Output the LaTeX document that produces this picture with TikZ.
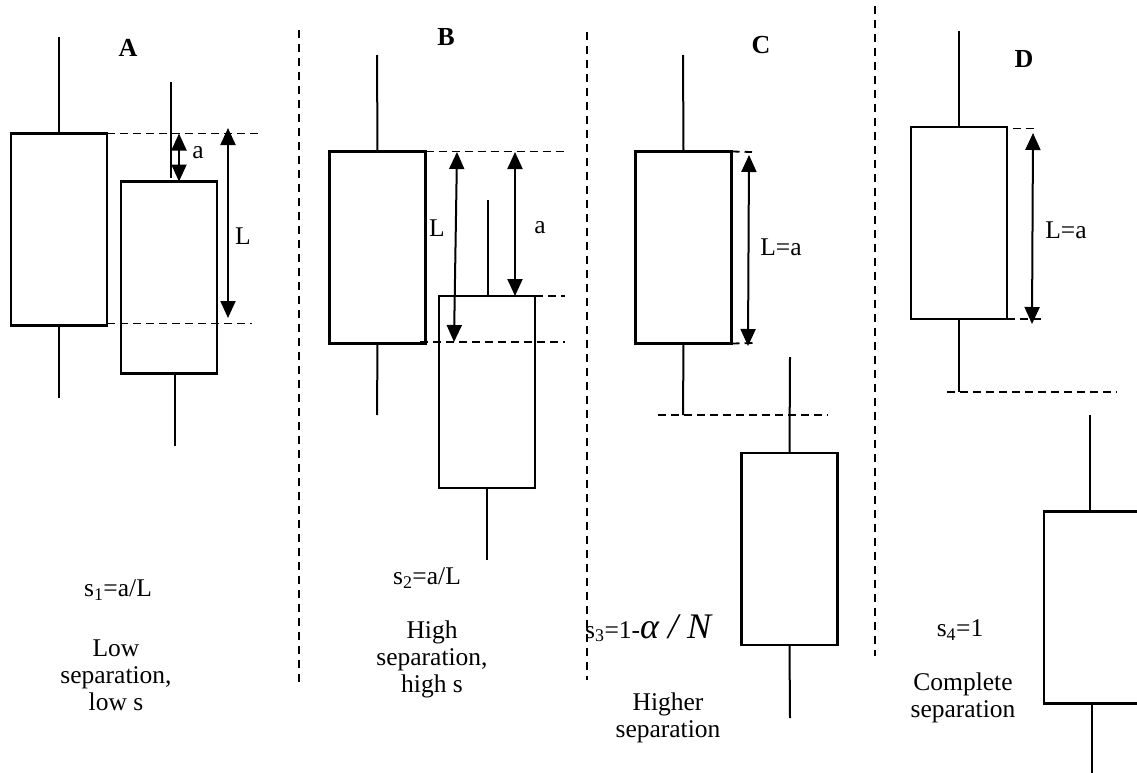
\documentclass[tikz,border=0pt]{standalone}
\usepackage{fontspec}
\setmainfont{Liberation Serif}
\usetikzlibrary{arrows.meta}
\tikzset{
  candle/.style={draw, line width=2.3pt, minimum width=96pt, minimum height=192pt, inner sep=0pt, outer sep=0pt},
  wick/.style={line width=2pt},
  guide/.style={line width=1.8pt, dash pattern=on 8pt off 5pt},
  sepline/.style={line width=1.8pt, dash pattern=on 8pt off 6pt},
  dimarrow/.style={line width=2pt, {Triangle[width=15pt,length=17pt]}-{Triangle[width=15pt,length=17pt]}},
  txt/.style={font=\fontsize{25.5}{27}\selectfont, align=center, inner sep=0pt},
  panellabel/.style={font=\fontsize{26}{27}\selectfont\bfseries, inner sep=0pt}
}
\begin{document}
\begin{tikzpicture}[x=1pt,y=-1pt]
\useasboundingbox (0,0) rectangle (1137,773);
% separators
\coordinate (sepAt) at (299,30); \coordinate (sepAb) at (299,682);
\coordinate (sepBt) at (587,32); \coordinate (sepBb) at (587,680);
\coordinate (sepCt) at (875,6); \coordinate (sepCb) at (875,656);
\draw[sepline] (sepAt) -- (sepAb);
\draw[sepline] (sepBt) -- (sepBb);
\draw[sepline] (sepCt) -- (sepCb);

% ---------- Panel A ----------
\node[panellabel] (labA) at (128,48) {A};
\node[candle] (A1) at (59,229.5) {};
\node[candle] (A2) at (169,277.5) {};
\coordinate (A1t) at (59,37); \coordinate (A1b) at (59,398);
\coordinate (A2t) at (171,82); \coordinate (A2tb) at (171,178);
\coordinate (A2bt) at (175,373.5); \coordinate (A2b) at (175,446);
\draw[wick] (A1.north) -- (A1t);
\draw[wick] (A1.south) -- (A1b);
\draw[wick] (A2t) -- (A2tb);
\draw[wick] (A2bt) -- (A2b);
\coordinate (Ag1) at (262,133.5); \coordinate (Ag2) at (252,323.5);
\draw[guide] (A1.north east) -- (Ag1);
\draw[guide] (107,323.5) -- (Ag2);
\coordinate (Aat) at (179,133.5); \coordinate (Aab) at (179,181.5);
\draw[dimarrow] (Aat) -- (Aab);
\node[txt] (Aalab) at (198,153) {a};
\coordinate (ALt) at (228,128); \coordinate (ALb) at (228,318);
\draw[dimarrow] (ALt) -- (ALb);
\node[txt] (ALlab) at (243,236) {L};
\node[txt] (s1) at (118,590) {s\textsubscript{1}=a/L};
\node[txt] (descA) at (116,675) {Low\\separation,\\low s};

% ---------- Panel B ----------
\node[panellabel] (labB) at (446,37) {B};
\node[candle] (B1) at (377.5,247.5) {};
\node[candle] (B2) at (487,392) {};
\coordinate (B1t) at (377,55); \coordinate (B1b) at (377,415);
\coordinate (B2t) at (488,200); \coordinate (B2b) at (487,560);
\draw[wick] (B1.north) -- (B1t);
\draw[wick] (B1.south) -- (B1b);
\draw[wick] (B2t) -- (B2.north -| B2t);
\draw[wick] (B2.south -| B2b) -- (B2b);
\coordinate (Bg1) at (565,151.5); \coordinate (Bg2) at (565,296); \coordinate (Bg3) at (565,342);
\draw[guide] (B1.north east) -- (Bg1);
\draw[guide] (B2.north east) -- (Bg2);
\draw[guide] (420,342) -- (Bg3);
\coordinate (BLt) at (457,152); \coordinate (BLb) at (454,342);
\draw[dimarrow] (BLt) -- (BLb);
\node[txt] (BLlab) at (437,228) {L};
\coordinate (Bat) at (515,152); \coordinate (Bab) at (515,296);
\draw[dimarrow] (Bat) -- (Bab);
\node[txt] (Balab) at (540,228) {a};
\node[txt] (s2) at (427,578) {s\textsubscript{2}=a/L};
\node[txt] (descB) at (432,659) {High\\separation,\\high s};

% ---------- Panel C ----------
\node[panellabel] (labC) at (761,45) {C};
\node[candle] (C1) at (683.5,247.5) {};
\node[candle] (C2) at (789.5,549) {};
\coordinate (C1t) at (683,55); \coordinate (C1b) at (683,415);
\coordinate (C2t) at (790,357); \coordinate (C2b) at (790,718);
\draw[wick] (C1.north) -- (C1t);
\draw[wick] (C1.south) -- (C1b);
\draw[wick] (C2.north) -- (C2t);
\draw[wick] (C2.south) -- (C2b);
\coordinate (Cg1) at (752,152); \coordinate (Cg2) at (755,343);
\draw[guide] (C1.north east) -- (Cg1);
\draw[guide] (C1.south east) -- (Cg2);
\coordinate (Cg3a) at (658,415); \coordinate (Cg3b) at (828,415);
\draw[guide] (Cg3a) -- (Cg3b);
\coordinate (CLt) at (749,155); \coordinate (CLb) at (748,346);
\draw[dimarrow] (CLt) -- (CLb);
\node[txt] (CLlab) at (781,247) {L=a};
\node[txt, anchor=base west] (s3) at (585,638) {s\textsubscript{3}=1-{\fontsize{36}{36}\selectfont\itshape α / N}};
\node[txt] (descC) at (668,718) {Higher\\separation};

% ---------- Panel D ----------
\node[panellabel] (labD) at (1024,59) {D};
\node[candle] (D1) at (959,223) {};
\node[candle] (D2) at (1092,607.5) {};
\coordinate (D1t) at (959,31); \coordinate (D1b) at (959,392);
\coordinate (D2t) at (1090,415); \coordinate (D2b) at (1092,773);
\draw[wick] (D1.north) -- (D1t);
\draw[wick] (D1.south) -- (D1b);
\draw[wick] (D2t) -- (D2.north -| D2t);
\draw[wick] (D2.south) -- (D2b);
\coordinate (Dg1a) at (1013,128.5); \coordinate (Dg1) at (1037,128.5); \coordinate (Dg2) at (1043,319);
\draw[guide] (Dg1a) -- (Dg1);
\draw[guide] (D1.south east) -- (Dg2);
\coordinate (Dg3a) at (947,392); \coordinate (Dg3b) at (1117,392);
\draw[guide] (Dg3a) -- (Dg3b);
\coordinate (DLt) at (1033,133); \coordinate (DLb) at (1032,324);
\draw[dimarrow] (DLt) -- (DLb);
\node[txt] (DLlab) at (1066,230) {L=a};
\node[txt] (s4) at (960,630) {s\textsubscript{4}=1};
\node[txt] (descD) at (963,698) {Complete\\separation};
\end{tikzpicture}
\end{document}
